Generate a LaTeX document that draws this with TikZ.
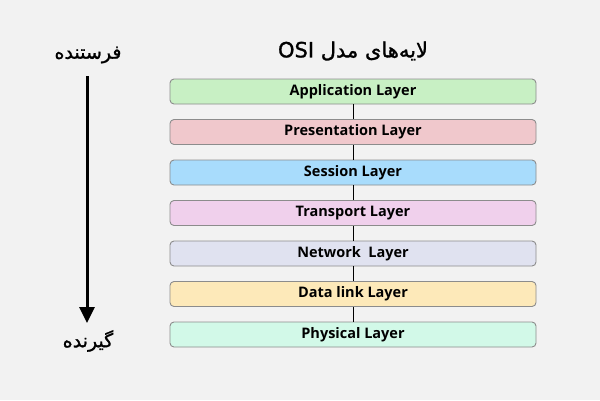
\documentclass[tikz,border=0pt]{standalone}
\usepackage{fontspec}
\setmainfont{Open Sans}
\newfontfamily\fafont[Script=Arabic,FakeBold=1.2]{DejaVu Sans}
\TeXXeTstate=1
\usetikzlibrary{arrows.meta}
\definecolor{bg}{HTML}{F2F2F2}
\definecolor{cApp}{HTML}{C8F0C4}
\definecolor{cPre}{HTML}{F0C8CC}
\definecolor{cSes}{HTML}{A8DCFC}
\definecolor{cTra}{HTML}{F0D0EC}
\definecolor{cNet}{HTML}{E0E2F0}
\definecolor{cDat}{HTML}{FDE9B9}
\definecolor{cPhy}{HTML}{D2F9E8}
\definecolor{bord}{HTML}{8C8C8C}
\tikzset{
  layer/.style={draw=bord, line width=0.9pt, rounded corners=4pt, minimum width=366pt, minimum height=25pt, inner sep=0pt, font=\fontsize{14.5}{16}\selectfont\bfseries},
  link/.style={draw=black, line width=1pt},
  fatext/.style={font=\fafont\fontsize{19}{22}\selectfont, inner sep=0pt}
}
\begin{document}
\begin{tikzpicture}[x=1pt,y=-1pt]
\fill[bg] (0,0) rectangle (600,400);
\useasboundingbox (0,0) rectangle (600,400);
\node[fatext, font=\fafont\fontsize{21}{24}\selectfont] (title) at (353,51) {\beginR لایه‌های مدل \beginL OSI\endL\endR};
\node[layer, fill=cApp] (l1) at (353,91.5) {Application Layer};
\node[layer, fill=cPre] (l2) at (353,132) {Presentation Layer};
\node[layer, fill=cSes] (l3) at (353,172.5) {Session Layer};
\node[layer, fill=cTra] (l4) at (353,213) {Transport Layer};
\node[layer, fill=cNet] (l5) at (353,253.5) {Network\ \ Layer};
\node[layer, fill=cDat] (l6) at (353,294) {Data link Layer};
\node[layer, fill=cPhy] (l7) at (353,334.5) {Physical Layer};
\draw[link] (l1.south) -- (l2.north);
\draw[link] (l2.south) -- (l3.north);
\draw[link] (l3.south) -- (l4.north);
\draw[link] (l4.south) -- (l5.north);
\draw[link] (l5.south) -- (l6.north);
\draw[link] (l6.south) -- (l7.north);
\node[fatext] (snd) at (88,55) {\beginR فرستنده\endR};
\node[fatext] (rcv) at (88,341) {\beginR گیرنده\endR};
\coordinate (a1) at (87,76);
\coordinate (a2) at (87,323);
\draw[line width=3pt, -{Triangle[length=16pt,width=15pt]}] (a1) -- (a2);
\end{tikzpicture}
\end{document}
